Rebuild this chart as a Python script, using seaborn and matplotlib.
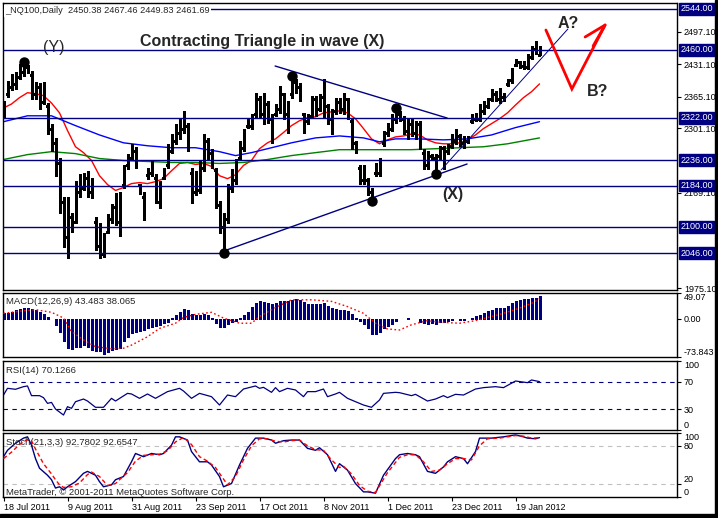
import numpy as np
import matplotlib
matplotlib.use("Agg")
import matplotlib.pyplot as plt
import matplotlib.transforms as mtransforms
from matplotlib.patches import Rectangle
import seaborn as sns

sns.set_style("white")
plt.rcParams["font.family"] = ["Liberation Sans", "DejaVu Sans"]

# ---------------- data ----------------
tick_idx = [0, 16, 32, 48, 64, 80, 96, 112, 128]
tick_labels = ["18 Jul 2011", "9 Aug 2011", "31 Aug 2011", "23 Sep 2011", "17 Oct 2011",
               "8 Nov 2011", "1 Dec 2011", "23 Dec 2011", "19 Jan 2012"]

highs = [2356, 2397, 2411, 2415, 2432, 2436, 2430, 2417, 2395, 2393,
         2395, 2352, 2310, 2281, 2241, 2160, 2160, 2129, 2194, 2208,
         2210, 2214, 2200, 2119, 2107, 2087, 2127, 2147, 2168, 2170,
         2225, 2249, 2269, 2262, 2188, 2170, 2220, 2235, 2208, 2194,
         2220, 2269, 2289, 2310, 2320, 2336, 2312, 2220, 2214, 2235,
         2289, 2281, 2259, 2220, 2153, 2129, 2188, 2218, 2239, 2275,
         2300, 2322, 2330, 2373, 2367, 2373, 2356, 2330, 2350, 2387,
         2373, 2356, 2407, 2401, 2393, 2332, 2330, 2367, 2367, 2371,
         2401, 2350, 2340, 2363, 2363, 2373, 2363, 2322, 2275, 2225,
         2225, 2200, 2180, 2229, 2241, 2296, 2312, 2330, 2342, 2336,
         2326, 2322, 2322, 2316, 2316, 2259, 2255, 2249, 2249, 2265,
         2265, 2269, 2289, 2300, 2289, 2285, 2285, 2330, 2332, 2350,
         2356, 2363, 2381, 2377, 2383, 2373, 2401, 2423, 2442, 2438,
         2438, 2452, 2468, 2478, 2467.46]
lows = [2322, 2365, 2379, 2381, 2401, 2407, 2413, 2361, 2361, 2340,
        2350, 2289, 2255, 2204, 2129, 2058, 2036, 2089, 2107, 2160,
        2174, 2160, 2158, 2052, 2036, 2038, 2087, 2107, 2103, 2082,
        2180, 2218, 2235, 2220, 2166, 2113, 2198, 2204, 2149, 2139,
        2198, 2220, 2251, 2269, 2279, 2292, 2255, 2149, 2164, 2168,
        2214, 2235, 2220, 2139, 2087, 2046, 2107, 2170, 2188, 2235,
        2255, 2302, 2300, 2322, 2322, 2310, 2312, 2271, 2326, 2332,
        2320, 2292, 2363, 2373, 2356, 2292, 2310, 2322, 2326, 2336,
        2322, 2310, 2289, 2330, 2332, 2330, 2320, 2259, 2251, 2188,
        2188, 2164, 2153, 2204, 2204, 2265, 2285, 2296, 2312, 2316,
        2289, 2279, 2285, 2279, 2259, 2218, 2218, 2235, 2208, 2239,
        2218, 2249, 2261, 2269, 2265, 2261, 2271, 2312, 2316, 2316,
        2330, 2342, 2356, 2356, 2352, 2356, 2387, 2393, 2428, 2423,
        2421, 2421, 2442, 2452, 2449.83]
opens = [2330, 2370, 2385, 2390, 2405, 2415, 2425, 2410, 2370, 2385,
         2355, 2345, 2300, 2270, 2230, 2150, 2080, 2120, 2110, 2170,
         2180, 2200, 2170, 2110, 2060, 2045, 2090, 2115, 2140, 2110,
         2185, 2225, 2240, 2255, 2185, 2160, 2205, 2210, 2200, 2150,
         2200, 2225, 2255, 2275, 2290, 2300, 2305, 2210, 2170, 2175,
         2220, 2275, 2250, 2215, 2145, 2100, 2115, 2180, 2195, 2240,
         2260, 2305, 2305, 2330, 2360, 2330, 2350, 2320, 2330, 2340,
         2370, 2330, 2370, 2395, 2385, 2330, 2315, 2325, 2360, 2340,
         2365, 2345, 2320, 2335, 2355, 2340, 2360, 2315, 2270, 2220,
         2195, 2195, 2170, 2210, 2210, 2270, 2290, 2300, 2320, 2330,
         2320, 2295, 2310, 2290, 2310, 2250, 2225, 2245, 2240, 2245,
         2260, 2255, 2265, 2275, 2285, 2270, 2275, 2315, 2320, 2320,
         2335, 2345, 2360, 2370, 2360, 2365, 2390, 2398, 2430, 2435,
         2428, 2425, 2445, 2462, 2450.38]
closes = [2350, 2390, 2405, 2410, 2425, 2430, 2418, 2370, 2385, 2350,
          2385, 2295, 2265, 2215, 2140, 2070, 2150, 2100, 2185, 2195,
          2200, 2170, 2190, 2060, 2045, 2080, 2120, 2140, 2110, 2160,
          2220, 2240, 2260, 2225, 2170, 2130, 2215, 2225, 2155, 2185,
          2215, 2260, 2280, 2300, 2310, 2325, 2260, 2160, 2205, 2230,
          2280, 2245, 2225, 2145, 2095, 2120, 2180, 2210, 2230, 2270,
          2295, 2318, 2325, 2365, 2330, 2365, 2320, 2285, 2345, 2380,
          2330, 2350, 2400, 2380, 2365, 2300, 2325, 2360, 2335, 2365,
          2330, 2315, 2295, 2355, 2340, 2365, 2325, 2265, 2255, 2195,
          2220, 2170, 2160, 2225, 2235, 2290, 2305, 2325, 2335, 2320,
          2295, 2310, 2290, 2310, 2265, 2225, 2245, 2240, 2215, 2260,
          2225, 2265, 2285, 2295, 2270, 2280, 2283, 2325, 2330, 2345,
          2350, 2360, 2375, 2360, 2378, 2370, 2398, 2420, 2438, 2428,
          2435, 2448, 2465, 2455, 2461.69]

red_ma_idx = list(range(0, 135, 2))
red_ma = [2342, 2350, 2363, 2373, 2371, 2367, 2352, 2332, 2296, 2263,
          2251, 2235, 2204, 2186, 2174, 2180, 2188, 2190, 2188, 2192,
          2198, 2214, 2229, 2231, 2227, 2229, 2223, 2204, 2198, 2206,
          2225, 2235, 2259, 2271, 2279, 2292, 2306, 2316, 2322, 2324,
          2332, 2334, 2336, 2332, 2320, 2300, 2279, 2269, 2277, 2283,
          2285, 2289, 2287, 2277, 2271, 2269, 2269, 2271, 2277, 2287,
          2300, 2310, 2320, 2332, 2348, 2363, 2375, 2391]
blue_ma_idx = [0, 6, 12, 18, 24, 30, 36, 42, 48, 54, 58, 62, 66, 72, 78, 84, 90, 94, 98,
               104, 110, 116, 122, 128, 134]
blue_ma = [2314, 2326, 2326, 2306, 2287, 2271, 2265, 2261, 2261, 2253, 2245, 2251, 2259,
           2271, 2281, 2285, 2281, 2273, 2279, 2279, 2277, 2279, 2287, 2302, 2314]
green_ma_idx = [0, 6, 12, 18, 24, 30, 36, 42, 48, 54, 60, 66, 72, 78, 84, 90, 96, 102,
                108, 114, 120, 126, 134]
green_ma = [2237, 2247, 2253, 2249, 2239, 2235, 2233, 2231, 2231, 2229, 2231, 2237, 2245,
            2251, 2257, 2257, 2257, 2257, 2259, 2261, 2263, 2269, 2281]

levels = [2544, 2460, 2322, 2236, 2184, 2100, 2046]
price_ticks = [2497.10, 2431.10, 2365.10, 2301.10, 2169.10, 1975.10]

wave_high_idx = [5, 72, 98]
wave_low_idx = [55, 92, 108]

trend_upper = ([67.9, 110.9], [2427.4, 2321.5])
trend_lower = ([54.4, 115.9], [2048.7, 2227.9])
trend_steep = ([109.4, 141.1], [2215.7, 2502.8])
path_ab = ([135.6, 142.1, 150.4], [2500.7, 2380.6, 2510.9])
arrow_head = ([145.4, 150.4, 147.4], [2486.5, 2510.9, 2468.1])

macd_hist = [10, 10, 13, 17, 19, 21, 21, 19, 17, 13,
             8, 3, -1, -12, -25, -44, -57, -58, -54, -54,
             -51, -54, -60, -63, -63, -69, -65, -60, -58, -57,
             -44, -35, -28, -25, -24, -22, -19, -17, -15, -12,
             -9, -6, 1, 7, 13, 19, 17, 8, 6, 6,
             8, 6, 1, -9, -17, -17, -11, -6, -4, 2,
             7, 13, 23, 29, 33, 31, 29, 28, 29, 34,
             34, 33, 36, 38, 36, 31, 28, 28, 28, 28,
             29, 25, 21, 19, 17, 17, 15, 8, 1, -4,
             -11, -19, -30, -30, -25, -19, -15, -11, -4, -1,
             0, 0.5, -0.5, -1, -6, -9, -11, -9, -11, -7,
             -7, -4, -3, -1, -2, -2, -1, 1, 4, 7,
             10, 15, 17, 20, 21, 21, 25, 29, 34, 36,
             38, 38, 39, 39, 43.483]
macd_sig_idx = [0, 5, 8, 12, 15, 17, 20, 23, 27, 30, 32, 36, 39, 43, 45, 48, 52, 55, 59, 62,
                64, 68, 72, 77, 82, 86, 90, 93, 96, 99, 102, 106, 109, 114, 118, 122, 125,
                129, 132, 134]
macd_sig = [10, 15, 17, 12, 1, -25, -41, -54, -58, -57, -51, -35, -19, -9, 2, 8, 12, 1, -9,
            -9, 4, 21, 36, 36, 33, 23, 10, -9, -20, -22, -12, -4, -7, -9, -4, 4, 10, 20, 29,
            38.065]

rsi_idx = [0, 1, 3, 5, 6, 7, 9, 10, 11, 12, 13, 15, 16, 17, 18, 20, 21, 23, 25, 27,
           28, 31, 32, 34, 36, 38, 41, 44, 45, 47, 49, 52, 54, 56, 58, 60, 63, 64, 65, 67,
           68, 69, 71, 73, 75, 76, 78, 80, 81, 83, 84, 86, 90, 92, 94, 95, 98, 99, 102, 103,
           106, 108, 110, 111, 113, 115, 118, 120, 123, 125, 128, 131, 132, 134]
rsi = [50.7, 60.4, 59, 62.8, 63.8, 49.8, 49.8, 46.9, 38.6, 40,
       30.4, 21.7, 33.8, 31.4, 41, 44.9, 42, 32.9, 32.9, 45.9,
       42, 53.1, 52.2, 45.9, 52.2, 45.9, 55.6, 60.4, 56.5, 45.9,
       53.1, 48.3, 36.2, 50.7, 48.3, 59.4, 63.8, 60.4, 61.8, 54.6,
       61.4, 55.6, 60.4, 58, 48.3, 55.6, 55.6, 59.4, 48.3, 52.2,
       54.6, 45.9, 36.2, 32.9, 43.5, 53.1, 54.6, 54.1, 49.8, 51.7,
       42, 44.9, 49.8, 46.9, 51.7, 50.7, 59.4, 61.4, 62.8, 61.4,
       71, 68.6, 72.5, 70.1266]

stoch_idx = [0, 1, 3, 5, 6, 7, 8, 9, 11, 12, 13, 14, 15, 16, 18, 20, 21, 23, 24, 25,
             27, 28, 30, 32, 33, 35, 37, 39, 40, 42, 43, 44, 46, 47, 49, 51, 52, 54, 55, 57,
             59, 61, 63, 65, 67, 68, 70, 72, 74, 76, 78, 79, 81, 83, 84, 86, 88, 90, 91, 93,
             95, 98, 99, 101, 103, 104, 106, 108, 110, 111, 113, 115, 116, 118, 119, 122, 125,
             128, 130, 131, 133, 134]
stoch_main = [63, 73, 84, 92, 94, 81, 60, 45, 34, 27, 14, 16, 11, 16, 24, 37, 40, 34, 24, 16,
              19, 27, 32, 55, 68, 63, 68, 66, 68, 81, 94, 94, 89, 71, 55, 55, 50, 32, 16, 21,
              50, 76, 92, 92, 89, 84, 88, 89, 89, 76, 73, 77, 66, 40, 52, 42, 21, 8, 8, 6,
              34, 60, 66, 68, 66, 63, 40, 37, 47, 55, 63, 60, 52, 71, 92, 92, 94, 97, 94, 92,
              91, 92.78]
stoch_sig_idx = [0, 2, 4, 6, 7, 8, 10, 12, 13, 14, 15, 17, 19, 21, 22, 24, 25, 26, 28, 29,
                 31, 33, 35, 37, 39, 41, 43, 45, 47, 49, 51, 53, 55, 56, 58, 60, 62, 64, 66, 68,
                 70, 72, 74, 76, 78, 80, 82, 84, 85, 87, 89, 91, 93, 96, 99, 101, 103, 105, 107,
                 109, 111, 113, 115, 117, 119, 121, 124, 128, 130, 132, 134]
stoch_sig = [60, 70, 82, 90, 88, 75, 52, 36, 27, 19, 15, 16, 22, 35, 39, 32, 25, 18, 21, 27,
             38, 56, 65, 66, 67, 72, 86, 93, 82, 63, 56, 46, 28, 19, 32, 58, 80, 91, 91, 87,
             86, 88, 89, 80, 74, 73, 58, 46, 48, 36, 18, 9, 7, 38, 62, 66, 66, 55, 40, 42,
             52, 60, 60, 58, 80, 91, 92, 96, 95, 92, 92.65]

# ---------------- layout ----------------
W, H = 718, 518
NAVY = "#000080"
fig = plt.figure(figsize=(W / 100, H / 100), dpi=100)
fig.patch.set_facecolor("white")


def rect(x0, y0, x1, y1):
    return [x0 / W, 1 - y1 / H, (x1 - x0) / W, (y1 - y0) / H]


ax = fig.add_axes(rect(3, 3, 677, 290))
axm = fig.add_axes(rect(3, 293, 677, 357))
axr = fig.add_axes(rect(3, 361, 677, 430))
axs = fig.add_axes(rect(3, 433, 677, 497))

for a in (ax, axm, axr, axs):
    a.set_facecolor("white")
    for s in a.spines.values():
        s.set_color("black")
        s.set_linewidth(1.0)
    a.set_xlim(-0.125, 168.375)
    a.yaxis.tick_right()
    a.tick_params(axis="y", which="both", direction="out", length=3, width=0.8, pad=2,
                  labelsize=6.5, colors="black", left=False, right=True)
    a.tick_params(axis="x", bottom=False, labelbottom=False)
    a.grid(False)

# ---------------- main price panel ----------------
ax.set_ylim(1971.3, 2555.7)
idx = np.arange(len(highs))
ax.vlines(idx, lows, highs, color="black", lw=0.9, zorder=3, antialiased=False)
ax.hlines(opens, idx - 0.3, idx, color="black", lw=0.9, zorder=3, antialiased=False)
ax.hlines(closes, idx, idx + 0.3, color="black", lw=0.9, zorder=3, antialiased=False)

sns.lineplot(x=red_ma_idx, y=red_ma, ax=ax, color="red", lw=1.0, zorder=2)
sns.lineplot(x=blue_ma_idx, y=blue_ma, ax=ax, color="#0000FF", lw=1.0, zorder=2)
sns.lineplot(x=green_ma_idx, y=green_ma, ax=ax, color="#008000", lw=1.0, zorder=2)

for lv in levels:
    ax.axhline(lv, color=NAVY, lw=1.0, zorder=4)

for tl in (trend_upper, trend_lower):
    ax.plot(tl[0], tl[1], color=NAVY, lw=1.0, zorder=4)
ax.plot(trend_steep[0], trend_steep[1], color=NAVY, lw=0.7, zorder=4)

ax.plot(path_ab[0], path_ab[1], color="red", lw=2.0, zorder=5, solid_joinstyle="miter")
ax.plot(arrow_head[0], arrow_head[1], color="red", lw=2.0, zorder=5)

ax.scatter(wave_high_idx, [highs[i] for i in wave_high_idx], s=42, color="black", zorder=6)
ax.scatter(wave_low_idx, [lows[i] for i in wave_low_idx], s=42, color="black", zorder=6)

ax.text(12.6, 2466, "(Y)", fontsize=11.5, ha="center", va="center", zorder=7)
ax.text(64.6, 2476.3, "Contracting Triangle in wave (X)", fontsize=11.5, fontweight="bold",
        ha="center", va="center", zorder=7)
ax.text(112.4, 2164.8, "(X)", fontsize=11.5, fontweight="bold", ha="center", va="center", zorder=7)
ax.text(141.1, 2513, "A?", fontsize=11.5, fontweight="bold", ha="center", va="center", zorder=7)
ax.text(148.4, 2376.5, "B?", fontsize=11.5, fontweight="bold", ha="center", va="center", zorder=7)

ax.set_yticks(price_ticks)
ax.set_yticklabels([f"{v:.2f}" for v in price_ticks])

trans = mtransforms.blended_transform_factory(ax.transAxes, ax.transData)
for lv in levels:
    ax.text(1 + 3.5 / 674, lv, f"{lv:.2f}", transform=trans, fontsize=6.5, color="white",
            ha="left", va="center", zorder=8,
            bbox=dict(boxstyle="square,pad=0.15", fc=NAVY, ec=NAVY))

ax.text(2 / 674, 1 - 7.7 / 287, "_NQ100,Daily  2450.38 2467.46 2449.83 2461.69",
        transform=ax.transAxes, fontsize=6.7, ha="left", va="center", zorder=9,
        bbox=dict(fc="white", ec="none", pad=1.0))

# ---------------- MACD ----------------
axm.set_ylim(-73.843, 49.07)
axm.vlines(idx, 0, macd_hist, color=NAVY, lw=0.9, antialiased=False, zorder=2)
sns.lineplot(x=macd_sig_idx, y=macd_sig, ax=axm, color="red", lw=1.0, zorder=3,
             linestyle=(0, (1.2, 1.8)))
axm.set_yticks([49.07, 0, -73.843])
axm.set_yticklabels(["49.07", "0.00", "-73.843"])
labs = axm.get_yticklabels()
labs[0].set_va("top")
labs[2].set_va("bottom")
axm.text(2.5 / 674, 1 - 8 / 64, "MACD(12,26,9) 43.483 38.065", transform=axm.transAxes,
         fontsize=6.8, ha="left", va="center")

# ---------------- RSI ----------------
axr.set_ylim(0, 100)
for lv in (70, 30):
    axr.axhline(lv, color=NAVY, lw=0.8, linestyle=(0, (4, 4)))
sns.lineplot(x=rsi_idx, y=rsi, ax=axr, color=NAVY, lw=0.9)
axr.set_yticks([100, 70, 30, 0])
axr.set_yticklabels(["100", "70", "30", "0"])
labs = axr.get_yticklabels()
labs[0].set_va("top")
labs[3].set_va("bottom")
axr.text(2.5 / 674, 1 - 9.7 / 69, "RSI(14) 70.1266", transform=axr.transAxes,
         fontsize=6.8, ha="left", va="center")

# ---------------- Stochastic ----------------
axs.set_ylim(0, 100)
for lv in (80, 20):
    axs.axhline(lv, color="#C0C0C0", lw=0.8, linestyle=(0, (4, 4)))
sns.lineplot(x=stoch_idx, y=stoch_main, ax=axs, color=NAVY, lw=1.0, zorder=3)
sns.lineplot(x=stoch_sig_idx, y=stoch_sig, ax=axs, color="red", lw=1.0, zorder=4,
             linestyle=(0, (3, 2)))
axs.set_yticks([100, 80, 20, 0])
axs.set_yticklabels(["100", "80", "20", "0"])
labs = axs.get_yticklabels()
labs[0].set_va("top")
labs[2].set_va("bottom")
labs[3].set_va("bottom")
axs.text(2.5 / 674, 1 - 9.3 / 64, "Stoch(21,3,3) 92.7802 92.6547", transform=axs.transAxes,
         fontsize=6.8, ha="left", va="center")
axs.text(2.5 / 674, 4.5 / 64, "MetaTrader, \u00a9 2001-2011 MetaQuotes Software Corp.",
         transform=axs.transAxes, fontsize=6.8, ha="left", va="center")

axs.set_xticks(tick_idx)
axs.set_xticklabels(tick_labels, ha="left", fontsize=6.5)
axs.tick_params(axis="x", bottom=True, labelbottom=True, length=3, width=0.8,
                direction="out", pad=1.5, colors="black")

for a in (ax, axm, axr, axs):
    a.set_xlabel("")
    a.set_ylabel("")
    leg = a.get_legend()
    if leg is not None:
        leg.remove()

# window frame on the right and bottom
fig.patches.append(Rectangle((715 / W, 0), 3 / W, 1, transform=fig.transFigure,
                             color="black", zorder=10))
fig.patches.append(Rectangle((0, 0), 1, 4.5 / H, transform=fig.transFigure,
                             color="black", zorder=10))

fig.savefig("out.png", dpi=100)
